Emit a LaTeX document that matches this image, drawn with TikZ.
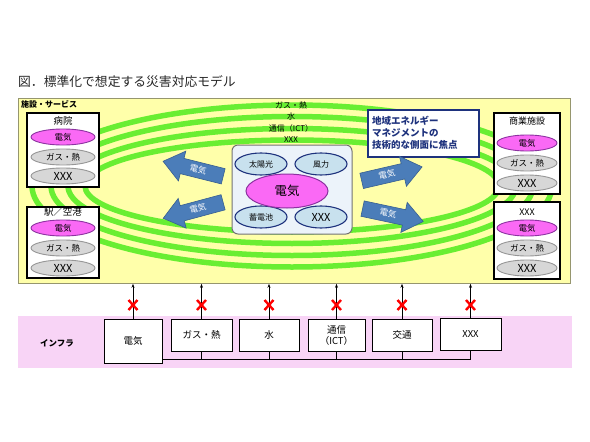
\documentclass[tikz,border=0pt]{standalone}
\usepackage{fontspec}
\setmainfont{Noto Sans CJK JP}
\usetikzlibrary{shapes.geometric,shapes.arrows,arrows.meta}
\definecolor{ylw}{RGB}{255,255,170}
\definecolor{ylwedge}{RGB}{150,150,110}
\definecolor{ringg}{RGB}{105,238,50}
\definecolor{mag}{RGB}{250,105,245}
\definecolor{magedge}{RGB}{140,50,160}
\definecolor{gryfill}{RGB}{215,215,215}
\definecolor{gryedge}{RGB}{150,150,150}
\definecolor{ltblue}{RGB}{200,225,238}
\definecolor{navy}{RGB}{30,50,125}
\definecolor{arrblue}{RGB}{75,125,185}
\definecolor{arredge}{RGB}{55,95,145}
\definecolor{pinkband}{RGB}{248,212,246}
\definecolor{cbox}{RGB}{236,243,250}
\tikzset{
  fbox/.style={draw=black, line width=1.3pt, fill=white, inner sep=0pt},
  melli/.style={ellipse, draw=magedge, fill=mag, line width=0.9pt, inner sep=0pt, font=\fontsize{8.5}{8.5}\selectfont},
  gelli/.style={ellipse, draw=gryedge, fill=gryfill, line width=0.9pt, inner sep=0pt, font=\fontsize{8.5}{8.5}\selectfont},
  belli/.style={ellipse, draw=navy, fill=ltblue, line width=1.1pt, inner sep=0pt, minimum width=52pt, minimum height=22pt, font=\fontsize{8}{8}\selectfont},
  btitle/.style={font=\fontsize{8}{8}\selectfont, inner sep=0pt},
  ring/.style={draw=ringg, line width=5.5pt},
  barr/.style={single arrow, draw=arredge, fill=arrblue, line width=0.6pt, text=white,
     font=\fontsize{8.5}{8.5}\selectfont, text height=6.5pt, text depth=1pt, inner xsep=1pt, inner ysep=3.8pt,
     single arrow head extend=7.5pt, single arrow head indent=0pt, single arrow tip angle=76, minimum height=62pt},
  ibox/.style={draw=black, line width=0.9pt, fill=white, inner sep=0pt, font=\fontsize{9.5}{11}\selectfont, align=center},
  upar/.style={-{Stealth[length=4pt,width=3pt]}, line width=0.7pt},
  xmark/.style={draw=red, line width=2.4pt}
}
\begin{document}
\begin{tikzpicture}[x=1pt,y=-1pt]
\useasboundingbox (0,0) rectangle (590,442);
\fill[white] (0,0) rectangle (590,442);
\node[anchor=west, inner sep=0pt, font=\fontsize{12.8}{13}\selectfont, text=black!85] (title) at (18,82) {図．標準化で想定する災害対応モデル};
% yellow service area
\node[draw=ylwedge, fill=ylw, line width=0.8pt, minimum width=552pt, minimum height=185pt, anchor=north west, inner sep=0pt] (svc) at (18,98) {};
\begin{scope}
\clip (svc.north west) rectangle (svc.south east);
\foreach \rx/\ry in {260/81, 241/69.5, 224/57.5, 207/46}
  \draw[ring] (292,186) ellipse [x radius=\rx, y radius=\ry];
\end{scope}
\node[anchor=west, inner sep=0pt, font=\bfseries\fontsize{8}{8}\selectfont] (svclab) at (21,104) {施設・サービス};
% left boxes
\node[fbox, minimum width=72pt, minimum height=74pt] (hosp) at (63,150) {};
\node[btitle, font=\fontsize{9.5}{9.5}\selectfont] (hospt) at (63,121) {病院};
\node[melli, minimum width=64pt, minimum height=16pt] (hospe) at (63,137) {電気};
\node[gelli, minimum width=64pt, minimum height=16pt] (hospg) at (63,157) {ガス・熱};
\node[gelli, minimum width=64pt, minimum height=16pt, font=\fontsize{11}{11}\selectfont] (hospx) at (63,176) {XXX};
\node[fbox, minimum width=72pt, minimum height=71pt] (stat) at (63,242.5) {};
\node[btitle, font=\fontsize{9.5}{9.5}\selectfont] (statt) at (63,212) {駅／空港};
\node[melli, minimum width=64pt, minimum height=16pt] (state) at (63,228) {電気};
\node[gelli, minimum width=64pt, minimum height=16pt] (statg) at (63,248) {ガス・熱};
\node[gelli, minimum width=64pt, minimum height=16pt, font=\fontsize{11}{11}\selectfont] (statx) at (63,268) {XXX};
% right boxes
\node[fbox, minimum width=66pt, minimum height=81pt] (comm) at (527,153.5) {};
\node[btitle, font=\fontsize{9}{9}\selectfont] (commt) at (527,121) {商業施設};
\node[melli, minimum width=60pt, minimum height=16pt] (comme) at (527,143) {電気};
\node[gelli, minimum width=60pt, minimum height=16pt] (commg) at (527,163) {ガス・熱};
\node[gelli, minimum width=60pt, minimum height=16pt, font=\fontsize{11}{11}\selectfont] (commx) at (527,183) {XXX};
\node[fbox, minimum width=66pt, minimum height=77pt] (oth) at (527,240.5) {};
\node[btitle, font=\fontsize{9}{9}\selectfont] (otht) at (527,212) {XXX};
\node[melli, minimum width=60pt, minimum height=16pt] (othe) at (527,228) {電気};
\node[gelli, minimum width=60pt, minimum height=16pt] (othg) at (527,248) {ガス・熱};
\node[gelli, minimum width=60pt, minimum height=16pt, font=\fontsize{11}{11}\selectfont] (othx) at (527,268) {XXX};
% texts above centre
\node[btitle] (tg) at (291,105) {ガス・熱};
\node[btitle] (tw) at (291,116.5) {水};
\node[btitle] (ti) at (291,128) {通信（ICT）};
\node[btitle] (tx) at (291,139.5) {XXX};
% centre box
\node[draw=black!55, line width=1pt, fill=cbox, rounded corners=6pt, minimum width=120pt, minimum height=89pt, inner sep=0pt] (cen) at (292,189.5) {};
\node[belli] (sun) at (261,164) {太陽光};
\node[belli] (wind) at (321,164) {風力};
\node[belli] (bat) at (261,217) {蓄電池};
\node[belli, font=\fontsize{11}{11}\selectfont] (cx) at (321,217) {XXX};
\node[ellipse, draw=magedge, fill=mag, line width=1pt, minimum width=82pt, minimum height=34pt, inner sep=0pt, font=\fontsize{12.5}{12.5}\selectfont] (ce) at (287,191) {電気};
% callout
\node[draw=navy, line width=1.2pt, fill=white, minimum width=111pt, minimum height=47pt, inner sep=0pt] (call) at (423.5,133.5) {};
\node[anchor=west, inner sep=0pt, align=left, text=navy, font=\bfseries\fontsize{9.5}{12}\selectfont] (callt) at (372,133) {地域エネルギー\\マネジメントの\\技術的な側面に焦点};
% blue arrows
\node[barr, shape border rotate=180, rotate=-14] (a1) at (198,170) {電気};
\node[barr, shape border rotate=180, rotate=15] (a2) at (198,209) {電気};
\node[barr, rotate=13] (a3) at (387,175) {電気};
\node[barr, rotate=-12] (a4) at (388,214) {電気};
% infrastructure band
\node[fill=pinkband, minimum width=554pt, minimum height=52pt, anchor=north west, inner sep=0pt] (infra) at (18,316) {};
\node[font=\bfseries\fontsize{8.5}{8.5}\selectfont, inner sep=0pt] (infl) at (57,343) {インフラ};
\node[ibox, minimum width=58pt, minimum height=44pt] (ie) at (133,341) {電気};
\node[ibox, minimum width=61pt, minimum height=32pt] (ig) at (201.5,335) {ガス・熱};
\node[ibox, minimum width=60pt, minimum height=32pt] (iw) at (269,335) {水};
\node[ibox, minimum width=57pt, minimum height=32pt] (ii) at (336.5,335) {通信\\（ICT）};
\node[ibox, minimum width=60pt, minimum height=32pt] (it) at (402,335) {交通};
\node[ibox, minimum width=61pt, minimum height=32pt] (ix) at (470.5,334) {XXX};
\coordinate (bus) at (0,359);
\draw[line width=0.9pt] (ie.east |- bus) -- (ix.south |- bus) -- (ix.south);
\foreach \b in {ig,iw,ii,it} \draw[line width=0.9pt] (\b.south) -- (\b.south |- bus);
\foreach \b in {ie,ig,iw,ii,it,ix} {
  \draw[upar] (\b.north) -- (\b.north |- svc.south);
  \coordinate (\b x) at (\b.north |- 0,305);
  \draw[xmark] ([shift={(-4.5,-5)}]\b x) -- ([shift={(4.5,5)}]\b x);
  \draw[xmark] ([shift={(-4.5,5)}]\b x) -- ([shift={(4.5,-5)}]\b x);
}
\end{tikzpicture}
\end{document}
